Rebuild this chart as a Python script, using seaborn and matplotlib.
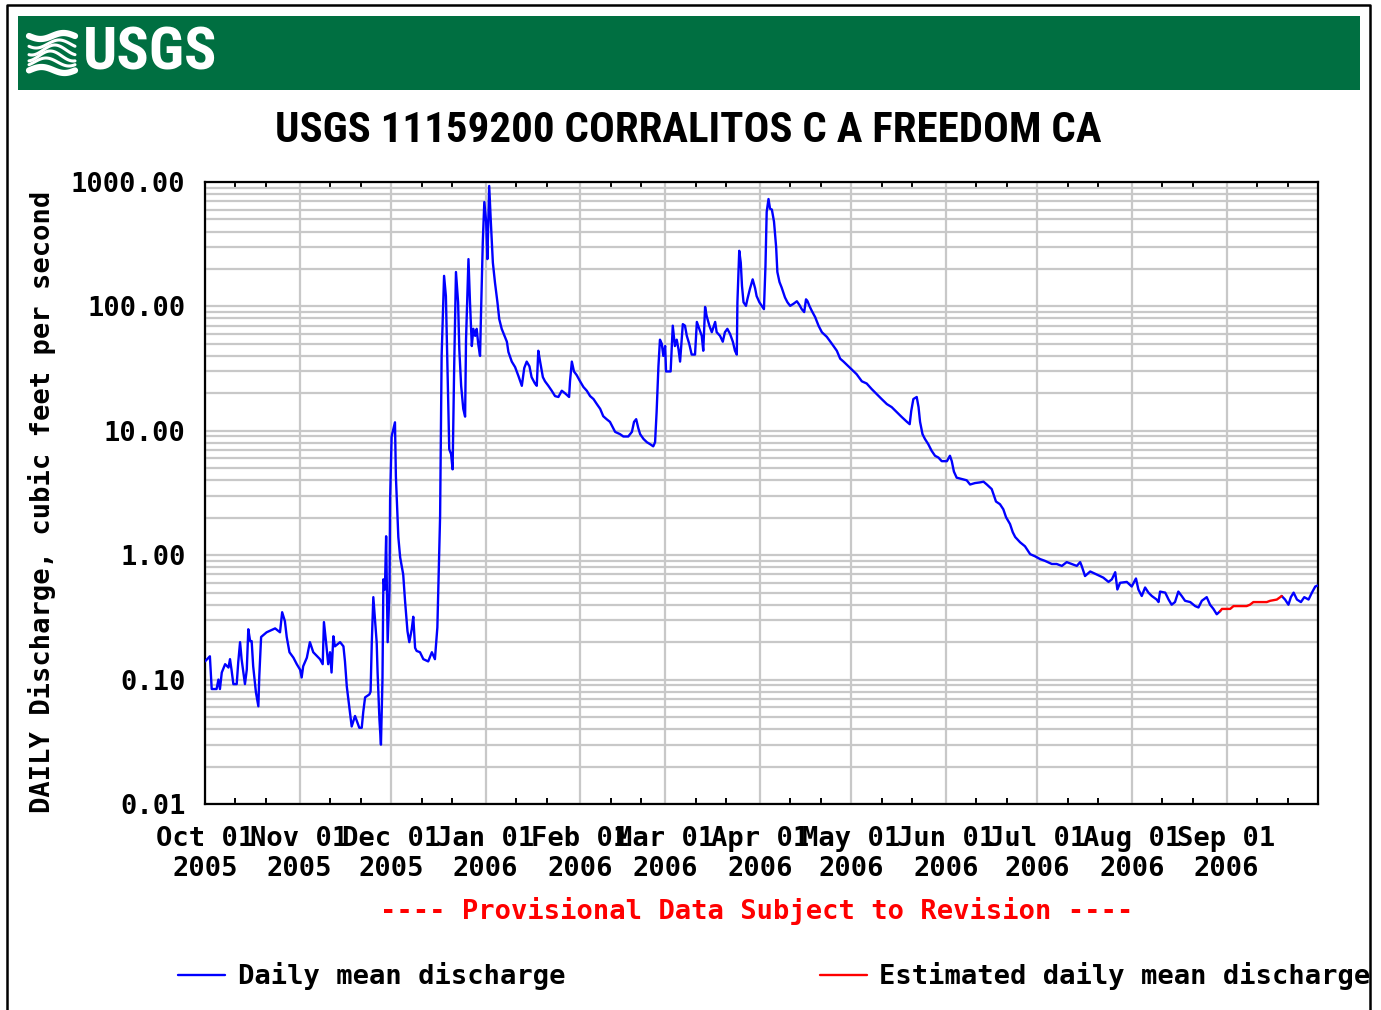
import numpy as np
import pandas as pd
import matplotlib
matplotlib.use("Agg")
import matplotlib.pyplot as plt
import matplotlib.dates as mdates
import matplotlib.ticker as mticker
from matplotlib import font_manager as fm
from matplotlib.lines import Line2D
from matplotlib.patches import Rectangle
import seaborn as sns

# ---------------- data ----------------
start_date = "2005-10-01"
end_date = "2006-10-01"
month_ticks = pd.date_range("2005-10-01", "2006-09-01", freq="MS")

# days after 2005-10-01 and daily mean discharge (cfs)
day = [
    0.0, 1.6, 2.2, 3.8, 4.4, 4.9, 5.5, 6.6, 7.7, 8.2,
    8.7, 9.3, 10.4, 10.9, 11.5, 12.0, 12.6, 13.1, 13.7, 14.2,
    14.8, 15.3, 15.8, 16.7, 17.5, 17.8, 18.4, 20.2, 23.0, 24.6,
    25.3, 26.2, 26.8, 27.7, 29.0, 30.1, 31.2, 31.7, 32.2, 33.4,
    34.4, 35.5, 37.7, 38.6, 39.0, 39.7, 40.4, 41.0, 41.5, 42.1,
    42.6, 44.3, 45.4, 45.9, 46.5, 47.3, 48.1, 49.2, 50.6, 51.4,
    51.9, 52.5, 53.9, 54.3, 54.7, 55.2, 55.8, 56.3, 56.6, 57.2,
    57.7, 58.2, 58.5, 59.0, 59.4, 59.9, 60.5, 60.7, 61.2, 62.3,
    62.6, 63.4, 64.0, 65.0, 65.6, 66.4, 67.0, 67.8, 68.3, 68.9,
    69.4, 70.5, 71.6, 73.2, 74.4, 75.4, 76.2, 77.1, 77.6, 78.4,
    79.0, 79.6, 80.1, 80.7, 81.2, 81.7, 82.3, 83.0, 83.4, 84.0,
    84.7, 85.3, 85.6, 86.4, 86.9, 87.5, 88.0, 88.6, 89.1, 89.6,
    90.2, 90.5, 91.1, 91.6, 92.2, 92.6, 93.2, 93.7, 94.4, 95.1,
    95.9, 96.5, 97.3, 99.0, 99.5, 100.6, 101.7, 102.8, 103.9, 104.7,
    105.5, 106.4, 107.1, 108.2, 108.8, 109.3, 109.9, 110.8, 111.5, 112.6,
    113.7, 114.8, 115.9, 117.0, 118.1, 119.4, 119.7, 120.3, 121.0, 121.9,
    123.0, 124.1, 125.2, 126.3, 127.4, 128.5, 129.6, 130.6, 131.7, 132.8,
    133.7, 134.5, 136.1, 137.2, 138.8, 140.0, 140.7, 141.4, 142.1, 142.7,
    143.8, 144.9, 146.0, 147.0, 147.6, 148.1, 148.7, 149.2, 149.8, 150.3,
    150.9, 151.2, 152.7, 153.4, 154.1, 154.7, 155.3, 155.8, 156.7, 157.4,
    158.0, 158.8, 159.6, 160.7, 161.3, 162.1, 162.9, 163.4, 164.0, 164.5,
    165.4, 166.2, 167.3, 167.8, 168.9, 169.8, 170.5, 171.3, 172.2, 173.1,
    173.8, 174.4, 174.6, 175.2, 175.7, 176.1, 176.6, 177.4, 177.9, 178.7,
    179.6, 180.4, 180.9, 181.8, 182.6, 183.3, 183.8, 184.2, 184.8, 185.3,
    185.9, 186.6, 187.3, 187.7, 188.4, 189.1, 190.2, 191.0, 191.9, 193.0,
    194.1, 194.9, 195.7, 196.5, 197.1, 197.6, 198.2, 199.0, 200.1, 201.2,
    202.3, 203.9, 205.6, 207.2, 208.3, 209.4, 211.0, 212.1, 213.7, 215.4,
    217.0, 218.6, 220.3, 221.9, 223.6, 225.2, 226.9, 228.5, 230.2, 231.1,
    231.6, 232.3, 233.4, 234.0, 234.5, 235.3, 236.1, 237.2, 238.3, 239.4,
    240.5, 241.6, 243.3, 244.3, 244.9, 245.6, 246.5, 248.2, 249.8, 250.9,
    252.5, 254.2, 255.3, 256.4, 258.0, 259.4, 260.7, 261.8, 262.7, 264.0,
    264.9, 265.7, 267.3, 268.9, 269.5, 270.6, 272.2, 273.9, 275.5, 277.7,
    279.3, 281.0, 282.6, 284.2, 285.9, 287.0, 287.5, 288.6, 290.3, 291.9,
    293.5, 294.6, 296.3, 297.4, 298.5, 299.2, 300.1, 302.3, 303.9, 305.3,
    306.1, 307.2, 308.3, 309.4, 310.5, 312.1, 312.7, 313.2, 314.9, 316.0,
    317.0, 318.1, 319.2, 320.3, 321.4, 323.1, 324.7, 325.8, 326.9, 328.5,
    329.6, 330.7, 331.8, 332.9, 353.1, 354.2, 355.3, 356.1, 357.0, 358.1,
    359.4, 360.5, 361.9, 363.0, 364.1, 364.8,
]
flow = [
    0.14, 0.154, 0.084, 0.084, 0.1, 0.084, 0.114, 0.133, 0.125, 0.146,
    0.12, 0.092, 0.092, 0.138, 0.2, 0.146, 0.114, 0.092, 0.12, 0.254,
    0.204, 0.204, 0.128, 0.079, 0.061, 0.106, 0.22, 0.24, 0.258, 0.24,
    0.348, 0.295, 0.22, 0.166, 0.15, 0.133, 0.12, 0.104, 0.128, 0.15,
    0.2, 0.166, 0.146, 0.133, 0.29, 0.2, 0.133, 0.166, 0.114, 0.223,
    0.185, 0.2, 0.185, 0.14, 0.088, 0.061, 0.042, 0.051, 0.041, 0.041,
    0.055, 0.072, 0.076, 0.08, 0.2, 0.46, 0.29, 0.2, 0.114, 0.048,
    0.03, 0.1, 0.64, 0.53, 1.42, 0.2, 0.53, 2.8, 9.0, 11.7,
    4.3, 1.4, 0.96, 0.7, 0.43, 0.245, 0.2, 0.254, 0.32, 0.18,
    0.17, 0.166, 0.146, 0.14, 0.166, 0.146, 0.263, 2.06, 40, 176,
    121, 26, 7.1, 6.5, 4.9, 31, 189, 108, 45, 23,
    15, 13, 54, 240, 108, 48, 66, 58, 66, 50,
    40, 84, 330, 690, 480, 240, 930, 500, 225, 155,
    108, 79, 66, 52, 43, 36, 32.5, 27.5, 23, 32,
    36, 33, 27, 24, 23, 44, 36, 27, 25, 23,
    21, 19, 18.7, 21, 20, 18.7, 25, 36, 30, 28,
    25, 22.5, 21, 19, 18, 16.4, 15, 13.1, 12.4, 11.8,
    10.7, 9.8, 9.4, 9.0, 9.0, 9.8, 11.8, 12.4, 10.5, 9.4,
    8.6, 8.1, 7.8, 7.5, 8.1, 14.1, 33, 54, 50, 40,
    48, 30, 30, 70, 48, 54, 45, 36, 72, 70,
    58, 50, 41, 41, 75, 66, 58, 44, 99, 84,
    70, 62, 75, 62, 58, 52, 62, 66, 60, 52,
    44, 41, 108, 280, 225, 146, 108, 101, 115, 138,
    165, 140, 121, 108, 101, 95, 210, 575, 730, 610,
    600, 480, 300, 189, 157, 142, 118, 108, 101, 105,
    110, 103, 95, 90, 114, 110, 101, 92, 82, 70,
    62, 57, 50, 44, 38, 36, 33, 31, 28.5, 25,
    24, 21.7, 19.7, 18, 16.4, 15.5, 14.1, 12.9, 11.8, 11.3,
    14.4, 18, 18.7, 15.5, 11.8, 9.4, 8.6, 7.8, 6.9, 6.3,
    6.1, 5.7, 5.7, 6.3, 5.7, 4.7, 4.2, 4.1, 4.0, 3.7,
    3.8, 3.85, 3.9, 3.7, 3.4, 2.7, 2.57, 2.34, 2.02, 1.78,
    1.53, 1.4, 1.27, 1.18, 1.12, 1.02, 0.98, 0.93, 0.9, 0.85,
    0.85, 0.82, 0.88, 0.85, 0.82, 0.88, 0.82, 0.68, 0.74, 0.71,
    0.68, 0.66, 0.61, 0.64, 0.73, 0.53, 0.6, 0.61, 0.56, 0.65,
    0.53, 0.47, 0.55, 0.5, 0.47, 0.44, 0.42, 0.51, 0.5, 0.44,
    0.4, 0.42, 0.51, 0.47, 0.43, 0.42, 0.39, 0.38, 0.43, 0.46,
    0.4, 0.37, 0.335, 0.355, 0.47, 0.44, 0.4, 0.46, 0.5, 0.44,
    0.42, 0.46, 0.44, 0.5, 0.56, 0.57,
]

# estimated daily mean discharge (red)
est_day = [332.9, 333.5, 336.2, 337.3, 341.6, 342.7, 343.8, 348.2, 349.3, 351.5, 352.6, 353.1]
est_flow = [0.355, 0.37, 0.37, 0.39, 0.39, 0.4, 0.42, 0.42, 0.43, 0.44, 0.46, 0.47]

y_ticks = [0.01, 0.1, 1, 10, 100, 1000]
y_tick_labels = ["0.01", "0.10", "1.00", "10.00", "100.00", "1000.00"]

title = "USGS 11159200 CORRALITOS C A FREEDOM CA"
y_label = "DAILY Discharge, cubic feet per second"
note = "---- Provisional Data Subject to Revision ----"
legend_labels = ["Daily mean discharge", "Estimated daily mean discharge"]

# ---------------- build tables ----------------
t0 = pd.Timestamp(start_date)
df = pd.DataFrame({"day": day, "flow": flow})
df["date"] = t0 + pd.to_timedelta(df["day"], unit="D")
df["seg"] = (df["day"] > est_day[0]).astype(int)
est = pd.DataFrame({"day": est_day, "flow": est_flow})
est["date"] = t0 + pd.to_timedelta(est["day"], unit="D")
x_tick_labels = [f"{d:%b} 01\n{d:%Y}" for d in month_ticks]

# ---------------- style ----------------
sns.set_style("white")
MONO = ["DejaVu Sans Mono"]


def pick_font(cands, default):
    for c in cands:
        try:
            fm.findfont(fm.FontProperties(family=c, weight="bold"),
                        fallback_to_default=False)
            return c
        except Exception:
            pass
    return default


NARROW = [pick_font(["Liberation Sans Narrow", "Arial Narrow", "Roboto Condensed",
                     "Open Sans Condensed", "DejaVu Sans Condensed",
                     "Noto Sans Condensed", "Roboto"], "DejaVu Sans"), "DejaVu Sans"]
plt.rcParams["font.family"] = MONO
plt.rcParams["text.color"] = "black"
plt.rcParams["xtick.color"] = "black"
plt.rcParams["ytick.color"] = "black"
plt.rcParams["axes.labelcolor"] = "black"

W, H = 1381, 1010
fig = plt.figure(figsize=(W / 100, H / 100), dpi=100)


def fx(x):
    return x / W


def fy(y):
    return 1 - y / H


ax = fig.add_axes([fx(205), fy(804), fx(1318) - fx(205), fy(182) - fy(804)])

BLUE = "#0000ff"
RED = "#ff0000"
GRID = "#c8c8c8"

sns.lineplot(data=df, x="date", y="flow", units="seg", estimator=None,
             color=BLUE, lw=1.7, sort=False, ax=ax, legend=False, zorder=3)
sns.lineplot(data=est, x="date", y="flow", estimator=None,
             color=RED, lw=1.7, sort=False, ax=ax, legend=False, zorder=3)

ax.set_yscale("log")
ax.set_ylim(0.01, 1000)
ax.set_xlim(pd.Timestamp(start_date), pd.Timestamp(end_date))

ax.yaxis.set_major_locator(mticker.FixedLocator(y_ticks))
ax.yaxis.set_major_formatter(mticker.FixedFormatter(y_tick_labels))
ax.yaxis.set_minor_locator(mticker.LogLocator(base=10, subs=np.arange(2, 10)))
ax.yaxis.set_minor_formatter(mticker.NullFormatter())

ax.xaxis.set_major_locator(mticker.FixedLocator(mdates.date2num(month_ticks)))
ax.xaxis.set_major_formatter(mticker.FixedFormatter(x_tick_labels))
ax.xaxis.set_minor_locator(mdates.DayLocator(bymonthday=[11, 21]))

ax.grid(True, which="major", axis="x", color=GRID, lw=1.6, zorder=0)
ax.grid(True, which="both", axis="y", color=GRID, lw=1.6, zorder=0)
ax.set_axisbelow(True)

ax.tick_params(axis="y", which="both", length=0, pad=14, labelsize=19.5,
               labelcolor="black")
ax.tick_params(axis="x", which="major", length=0, pad=16, labelsize=19.5,
               labelcolor="black")
ax.tick_params(axis="x", which="minor", direction="in", length=4, width=1.4,
               top=True, bottom=True, color="black")
for lab in ax.get_xticklabels() + ax.get_yticklabels():
    lab.set_fontweight("bold")
    lab.set_fontfamily(MONO)

for s in ax.spines.values():
    s.set_color("black")
    s.set_linewidth(1.6)
ax.set_xlabel("")
ax.set_ylabel("")

# ---------------- page decorations ----------------
fig.add_artist(Rectangle((fx(18), fy(90)), fx(1360) - fx(18), fy(16) - fy(90),
                         transform=fig.transFigure, facecolor="#006F41",
                         edgecolor="none", zorder=1))
# logo waves
xs = np.linspace(29, 75, 60)
for k, (y0, amp, lw) in enumerate([(36, 3, 4.5), (44, 4, 2.2), (50, 5, 2.2),
                                   (56, 5, 2.2), (62, 4, 2.2), (70, 3, 4.5)]):
    ys = y0 + amp * np.sin((xs - 29) / 46 * 2 * np.pi + 0.6 * k)
    fig.add_artist(Line2D(fx(xs), fy(ys), transform=fig.transFigure,
                          color="white", lw=lw, zorder=2))
logo = fig.text(fx(83), fy(54), "USGS", color="white", fontsize=44,
                fontweight="bold", family=NARROW, fontstretch="condensed",
                ha="left", va="center", zorder=3)

ttl = fig.text(fx(688), fy(130), title, fontsize=31.5, fontweight="bold",
               family=NARROW, fontstretch="condensed", ha="center", va="center",
               color="black")

fig.text(fx(42), fy(502), y_label, rotation=90, fontsize=19.5, fontweight="bold",
         family=MONO, ha="center", va="center", color="black")

fig.text(fx(757), fy(911), note, color=RED, fontsize=19.5, fontweight="bold",
         family=MONO, ha="center", va="center")

handles = [Line2D([], [], color=BLUE, lw=1.7), Line2D([], [], color=RED, lw=1.7)]
fig.legend(handles, legend_labels, loc="center left",
           bbox_to_anchor=(fx(178), fy(976)), ncol=2, frameon=False,
           prop={"family": MONO, "weight": "bold", "size": 19.5},
           handlelength=1.75, handletextpad=0.45, columnspacing=9.4,
           borderpad=0, borderaxespad=0, labelcolor="black")

# fit the narrow texts to the widths they have in the reference
renderer = fig.canvas.get_renderer()
for txt, target, max_size in [(logo, 135, 52), (ttl, 825, 33)]:
    wpx = txt.get_window_extent(renderer).width
    txt.set_fontsize(min(max_size, txt.get_fontsize() * target / wpx))

# mask outside the page border and draw the border
fig.add_artist(Rectangle((fx(1371), 0), 1 - fx(1371), 1, transform=fig.transFigure,
                         facecolor="white", edgecolor="none", zorder=20))
fig.add_artist(Line2D([fx(7), fx(7), fx(1370), fx(1370)], [0, fy(5), fy(5), 0],
                      transform=fig.transFigure, color="black", lw=1.8, zorder=21))

fig.savefig("out.png", dpi=100)
